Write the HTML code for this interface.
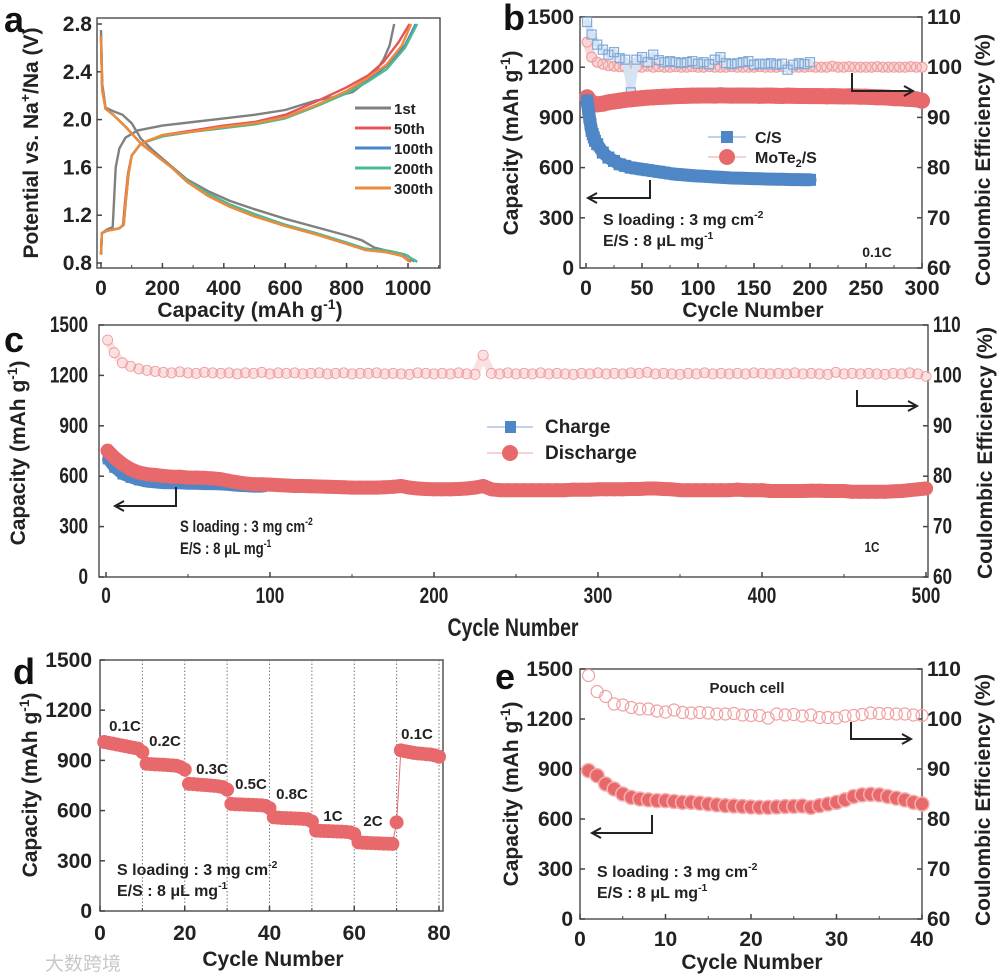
<!DOCTYPE html>
<html><head><meta charset="utf-8">
<style>
html,body{margin:0;padding:0;background:#fff;}
svg{display:block;font-family:"Liberation Sans","Noto Sans CJK SC",sans-serif;font-weight:bold;}
</style></head>
<body>
<svg id="fig" width="1000" height="977" viewBox="0 0 1000 977" xmlns="http://www.w3.org/2000/svg"></svg>
<script>
// ---------- DATA ----------
const aDis1 = [[0,2.75],[4,2.3],[15,2.1],[40,2.07],[70,2.04],[100,1.97],[130,1.84],[170,1.74],[220,1.63],[280,1.5],[350,1.4],[420,1.32],[500,1.25],[600,1.17],[700,1.1],[800,1.03],[850,0.99],[890,0.93],[950,0.89],[1000,0.86],[1020,0.81]];
const aDis50 = [[0,2.7],[4,2.25],[15,2.09],[40,2.04],[80,1.94],[130,1.8],[180,1.7],[230,1.6],[280,1.48],[350,1.36],[420,1.27],[500,1.19],[600,1.11],[700,1.04],[800,0.96],[860,0.91],[930,0.89],[980,0.86],[1010,0.81]];
const aDis100 = [[0,2.7],[4,2.25],[15,2.09],[40,2.04],[80,1.94],[130,1.8],[180,1.7],[230,1.6],[280,1.48],[350,1.37],[420,1.28],[500,1.2],[600,1.12],[700,1.05],[800,0.97],[860,0.92],[940,0.9],[990,0.87],[1030,0.81]];
const aDis200 = [[0,2.7],[4,2.25],[15,2.09],[40,2.04],[80,1.94],[130,1.8],[180,1.7],[230,1.6],[280,1.49],[350,1.38],[420,1.29],[500,1.21],[600,1.12],[700,1.05],[800,0.97],[860,0.92],[940,0.9],[990,0.87],[1030,0.81]];
const aDis300 = [[0,2.7],[4,2.25],[15,2.09],[40,2.04],[80,1.94],[130,1.8],[180,1.7],[230,1.6],[280,1.48],[350,1.36],[420,1.27],[500,1.19],[600,1.11],[700,1.04],[800,0.96],[860,0.91],[930,0.89],[980,0.86],[1005,0.81]];
const aChg1 = [[0,0.87],[3,1.05],[20,1.08],[38,1.1],[42,1.3],[48,1.6],[60,1.76],[80,1.85],[120,1.91],[200,1.95],[300,1.98],[400,2.01],[500,2.04],[600,2.08],[700,2.16],[760,2.19],[820,2.23],[880,2.35],[920,2.5],[940,2.62],[955,2.8]];
const aChg50 = [[0,0.87],[3,1.05],[20,1.07],[60,1.09],[72,1.12],[78,1.3],[88,1.55],[100,1.7],[130,1.8],[200,1.87],[300,1.91],[400,1.95],[500,1.98],[600,2.04],[700,2.15],[800,2.27],[870,2.37],[920,2.48],[970,2.65],[1005,2.8]];
const aChg100 = [[0,0.87],[3,1.05],[20,1.07],[60,1.09],[74,1.12],[80,1.3],[90,1.55],[100,1.7],[130,1.8],[200,1.86],[300,1.9],[400,1.93],[500,1.97],[600,2.02],[700,2.12],[800,2.23],[870,2.33],[930,2.45],[990,2.62],[1025,2.8]];
const aChg200 = [[0,0.87],[3,1.05],[20,1.07],[60,1.09],[74,1.12],[80,1.3],[90,1.55],[100,1.7],[130,1.8],[200,1.86],[300,1.9],[400,1.93],[500,1.96],[600,2.01],[700,2.11],[800,2.22],[870,2.32],[930,2.42],[990,2.6],[1030,2.8]];
const aChg300 = [[0,0.87],[3,1.05],[20,1.07],[60,1.09],[74,1.12],[80,1.3],[90,1.55],[100,1.7],[130,1.8],[200,1.87],[300,1.9],[400,1.94],[500,1.97],[600,2.02],[700,2.12],[800,2.24],[870,2.35],[930,2.46],[980,2.62],[1010,2.8]];
const aLabels = ['1st','50th','100th','200th','300th'];
const aXTicks = [0,200,400,600,800,1000];
const aYTicks = [0.8,1.2,1.6,2.0,2.4,2.8];

const bCycCS = [1,2,3,4,5,6,7,8,10,15,20,25,30,35,40,45,50,55,60,65,70,75,80,85,90,95,100,105,110,115,120,125,130,135,140,145,150,155,160,165,170,175,180,185,190,195,200];
const bCapCS = [1000,950,900,860,820,800,780,760,740,690,660,640,620,610,600,595,590,585,580,575,570,565,560,558,555,552,550,548,546,544,542,540,538,537,536,535,534,533,532,531,530,530,529,528,528,527,527];
const bCapMo = [1020,985,978,982,990,995,1000,1005,1008,1012,1015,1018,1020,1022,1024,1025,1027,1028,1029,1030,1030,1031,1031,1030,1032,1031,1030,1030,1031,1030,1030,1029,1030,1030,1029,1028,1030,1029,1028,1028,1027,1028,1027,1026,1027,1026,1025,1026,1025,1024,1024,1022,1020,1020,1018,1015,1015,1012,1010,1008,1000];
const bCeCS = [109,106.5,104.5,103.5,102.5,103,101.8,101.5,95,101.5,102,101,102.5,101.4,101,101.2,101,100.8,101,101.2,100.7,101,100.6,101.5,102,100.8,100.6,100.8,101,101.2,100.5,100.7,100.6,100.8,100.5,100.7,99.5,100.5,100.8,100.6,101];
const bCeMo = [105,102,101,100.6,100.3,100.2,100.1,100,100.1,100,100,100.2,100,100.1,100,100,100.1,100,100,100.1,100,100,100.1,100,100,100,100.1,100,100,100,100,100.1,100,100,100,100.1,100,100,100,100,100.1,100,100,100,100.2,100,100,100.1,100,100,100,100,100.1,100,100,100,100,100,100.1,100,100];
const bXTicks = [0,50,100,150,200,250,300];
const capTicks = [0,300,600,900,1200,1500];
const ceTicks = [60,70,80,90,100,110];

const cDis = [740,700,660,630,610,600,595,590,585,585,580,580,578,575,570,560,552,545,540,540,538,535,533,530,530,528,527,525,524,522,520,520,520,520,522,525,530,520,515,512,510,510,510,512,515,520,530,510,505,505,505,505,505,505,505,505,505,508,508,508,510,510,510,510,512,512,515,515,512,510,505,505,505,505,505,505,505,508,505,505,505,500,500,500,500,500,502,502,500,500,500,495,495,495,495,495,498,500,505,510,515];
const cChg = [700,650,610,590,575,565,560,556,555,555,552,552,550,550,548,545,540,538,535,535];
const cCe = [107,104.5,102.5,101.8,101.3,101,100.8,100.6,100.5,100.7,100.5,100.4,100.6,100.5,100.4,100.5,100.3,100.5,100.4,100.6,100.3,100.5,100.4,100.5,100.3,100.4,100.5,100.3,100.4,100.5,100.3,100.4,100.4,100.5,100.3,100.4,100.3,100.2,100.5,100.4,100.3,100.4,100.3,100.5,100.3,100.2,104,100.4,100.3,100.5,100.3,100.4,100.3,100.5,100.3,100.4,100.3,100.2,100.4,100.3,100.5,100.3,100.4,100.3,100.5,100.4,100.6,100.3,100.4,100.3,100.2,100.4,100.3,100.5,100.3,100.4,100.3,100.4,100.3,100.5,100.4,100.3,100.4,100.3,100.5,100.3,100.4,100.3,100.2,100.6,100.3,100.4,100.3,100.4,100.3,100.2,100.4,100.3,100.5,100.3,99.8];
const cXTicks = [0,100,200,300,400,500];

const dCap = [1010,1005,1000,995,990,985,980,975,970,950, 880,878,876,875,874,872,870,868,860,845, 760,758,756,754,752,750,748,745,740,725, 640,638,637,636,635,634,633,632,628,615, 560,558,556,555,554,553,552,550,548,535, 480,479,478,477,476,475,474,473,470,460, 410,408,407,406,405,404,403,402,401,530, 960,955,950,945,942,940,937,935,930,922];
const dRates = ['0.1C','0.2C','0.3C','0.5C','0.8C','1C','2C','0.1C'];
const dXTicks = [0,20,40,60,80];

const eCap = [890,860,810,780,750,730,720,715,710,710,705,700,700,695,690,685,680,678,675,672,670,670,672,675,676,678,670,680,690,700,715,735,745,748,745,735,725,715,700,690];
const eCe = [108.7,105.5,104.5,103,102.8,102.3,102,102,101.6,101.4,101.8,101.3,101.2,101.3,101.2,101,101,101.1,100.8,100.7,100.7,100.2,101,100.8,100.9,100.6,100.8,100.3,100.3,100.2,100.6,100.7,100.9,101.2,101.1,101.1,101,101,100.8,100.7];
const eXTicks = [0,10,20,30,40];

// ---------- helpers ----------
const NS='http://www.w3.org/2000/svg';
const svg=document.getElementById('fig');
function el(tag,attrs,parent){const e=document.createElementNS(NS,tag);for(const k in attrs)e.setAttribute(k,attrs[k]);(parent||svg).appendChild(e);return e;}
function txt(s,x,y,size,anchor,parent,extra){const t=el('text',Object.assign({x:x,y:y,'font-size':size,'text-anchor':anchor||'start',fill:'#222'},extra||{}),parent);t.textContent=s;return t;}
function lin(x1,y1,x2,y2,parent,w,col){return el('line',{x1:x1,y1:y1,x2:x2,y2:y2,stroke:col||'#444',"stroke-width":w||1.5},parent);}
function band(g,pts,w,col,name){const p=el('polyline',{points:pts.map(q=>q[0].toFixed(1)+','+q[1].toFixed(1)).join(' '),fill:'none',stroke:col,'stroke-width':w,'stroke-linejoin':'round','stroke-linecap':'round'},g);
  
  }

const RED='#e8696b', BLUE='#4f86c6', PINK='#f0a0a2';

function frame(g,x0,y0,x1,y1){const r=el('rect',{x:x0,y:y0,width:x1-x0,height:y1-y0,fill:'none',stroke:'#555','stroke-width':1.5},g);}
function arrow(g,vx,vy1,vy2,hx,name){
  const p=el('polyline',{points:vx+','+vy1+' '+vx+','+vy2+' '+hx+','+vy2,fill:'none',stroke:'#222','stroke-width':2},g);
  
  
  const d=hx>vx?-9:9;
  const h=el('polyline',{points:(hx+d)+','+(vy2-5)+' '+hx+','+vy2+' '+(hx+d)+','+(vy2+5),fill:'none',stroke:'#222','stroke-width':2},g);
  
  
}
function condition(g,x,y,size,condensed){
  const t1=txt('S loading : 3 mg cm',x,y,size,'start',g,condensed?{transform:'translate('+x+','+y+') scale(0.78,1) translate('+(-x)+','+(-y)+')'}:{});
  const s1=el('tspan',{dy:-7,'font-size':size*0.65},t1);s1.textContent='-2';
  
  
  const y2=y+size+5;
  const t2=txt('E/S : 8 μL mg',x,y2,size,'start',g,condensed?{transform:'translate('+x+','+y2+') scale(0.78,1) translate('+(-x)+','+(-y2)+')'}:{});
  const s2=el('tspan',{dy:-7,'font-size':size*0.65},t2);s2.textContent='-1';
  
  
}
function capTitle(g,x,cy,size,name){
  const t=txt('Capacity (mAh g',0,0,size,'middle',g,{transform:'translate('+x+','+cy+') rotate(-90)'});
  const s=el('tspan',{dy:-8,'font-size':size*0.65},t);s.textContent='-1';
  const s2=el('tspan',{dy:8},t);s2.textContent=')';
  
  
}
function ceTitle(g,x,cy,size,name){
  const t=txt('Coulombic Efficiency (%)',0,0,size,'middle',g,{transform:'translate('+x+','+cy+') rotate(-90)'});
  
  
}
function panelLetter(s,x,y){const t=txt(s,x,y,36,'start',svg,{fill:'#111'});}

// ---------- PANEL A ----------
(function(){
  const g=el('g',{});
  
  
  const sx=v=>101+v/1000*307, sy=v=>263-(v-0.8)/2*239;
  frame(g,97,18,440,268);
  aXTicks.forEach(v=>{lin(sx(v),268,sx(v),263,g);lin(sx(v+100),268,sx(v+100),265,g,1);
    const t=txt(String(v),sx(v),295,21,'middle',g);});
  aYTicks.forEach(v=>{lin(97,sy(v),102,sy(v),g);
    const t=txt(v.toFixed(1),92,sy(v)+7,21,'end',g);});
  const cols=['#808080','#e5545a','#4a86c8','#4cbb8f','#f08a3a'];
  const dis=[aDis1,aDis50,aDis100,aDis200,aDis300], chg=[aChg1,aChg50,aChg100,aChg200,aChg300];
  for(let i=0;i<5;i++){
    [dis[i],chg[i]].forEach((arr,j)=>{
      const p=el('polyline',{points:arr.map(d=>sx(d[0]).toFixed(1)+','+sy(d[1]).toFixed(1)).join(' '),fill:'none',stroke:cols[i],'stroke-width':2.4,'stroke-linejoin':'round'},g);
      
      
    });
    const ly=108+i*20;
    const l=lin(355,ly,391,ly,g,3,cols[i]);
    
    
    const t=txt(aLabels[i],394,ly+6,15,'start',g);
    
    
  }
  const xt=txt('Capacity (mAh g',250,317,21,'middle',g);const s=el('tspan',{dy:-8,'font-size':14},xt);s.textContent='-1';const s2=el('tspan',{dy:8},xt);s2.textContent=')';
  
  
  const yt=txt('Potential vs. Na',0,0,21,'middle',g,{transform:'translate(38,143) rotate(-90)'});
  const s3=el('tspan',{dy:-8,'font-size':14},yt);s3.textContent='+';const s4=el('tspan',{dy:8},yt);s4.textContent='/Na (V)';
  
  
})();
panelLetter('a',4,32);

// ---------- PANEL B ----------
(function(){
  const g=el('g',{});
  
  
  const sx=v=>586+v/300*336, sy=v=>268-v/1500*251, sc=v=>268-(v-60)/50*251;
  frame(g,580,17,922,268);
  bXTicks.forEach(v=>{lin(sx(v),268,sx(v),263,g);lin(sx(v+25),268,sx(v+25),265,g,1);
    const t=txt(String(v),sx(v),295,21,'middle',g);});
  capTicks.forEach(v=>{lin(580,sy(v),585,sy(v),g);
    const t=txt(String(v),574,sy(v)+7,21,'end',g);});
  ceTicks.forEach(v=>{lin(917,sc(v),922,sc(v),g);
    const t=txt(String(v),927,sc(v)+7,21,'start',g);});
  band(g,bCeMo.map((v,i)=>[sx(i===0?1:i*5),sc(v)]),9,'#f8d6d6','ce-band-mote2');
  bCeMo.forEach((v,i)=>{const c=el('circle',{cx:sx(i===0?1:i*5),cy:sc(v),r:5,fill:'none',stroke:PINK,'stroke-width':1.2},g);
    
    });
  band(g,bCeCS.map((v,i)=>[sx(i===0?1:i*5),sc(v)]),7,'#d5e3f3','ce-band-cs');
  bCeCS.forEach((v,i)=>{const x=sx(i===0?1:i*5);const r=el('rect',{x:x-4.5,y:sc(v)-4.5,width:9,height:9,fill:'none',stroke:'#7fa8d8','stroke-width':1.2},g);
    
    });
  band(g,bCapMo.map((v,i)=>[sx(i===0?1:i*5),sy(v)]),16,RED,'capacity-band-mote2');
  bCapMo.forEach((v,i)=>{const c=el('circle',{cx:sx(i===0?1:i*5),cy:sy(v),r:8,fill:RED},g);
    
    });
  band(g,bCapCS.map((v,i)=>[sx(bCycCS[i]),sy(v)]),13,BLUE,'capacity-band-cs');
  bCapCS.forEach((v,i)=>{const x=sx(bCycCS[i]);const r=el('rect',{x:x-6,y:sy(v)-6,width:12,height:12,fill:BLUE},g);
    
    });
  arrow(g,650,180,198,588,'capacity-axis-arrow');
  arrow(g,852,73,91,913,'ce-axis-arrow');
  lin(708,137,746,137,g,1,'#7fa8d8');
  const lr=el('rect',{x:721,y:131,width:12,height:12,fill:BLUE},g);
  
  
  const l1=txt('C/S',755,143,16,'start',g);
  
  
  lin(708,157,746,157,g,1,PINK);
  const lc=el('circle',{cx:727,cy:157,r:8,fill:RED},g);
  
  
  const l2=txt('MoTe',755,163,16,'start',g);const ss=el('tspan',{dy:4,'font-size':11},l2);ss.textContent='2';const ss2=el('tspan',{dy:-4},l2);ss2.textContent='/S';
  
  
  condition(g,603,225,16,false);
  const r=txt('0.1C',877,257,14,'middle',g);
  
  
  const xt=txt('Cycle Number',753,317,21,'middle',g);
  
  
  capTitle(g,518,143,21,'capacity-axis-title');
  ceTitle(g,990,160,21,'ce-axis-title');
})();
panelLetter('b',503,30);

// ---------- PANEL C ----------
(function(){
  const g=el('g',{});
  
  
  const sx=v=>106+v/500*820, sy=v=>577-v/1500*252, sc=v=>577-(v-60)/50*252;
  frame(g,99,325,928,577);
  const cond=(x,y)=>({transform:'translate('+x+','+y+') scale(0.78,1) translate('+(-x)+','+(-y)+')'});
  cXTicks.forEach(v=>{lin(sx(v),577,sx(v),572,g);if(v<500)lin(sx(v+50),577,sx(v+50),574,g,1);
    const t=txt(String(v),sx(v),603,22,'middle',g,cond(sx(v),603));});
  capTicks.forEach(v=>{lin(99,sy(v),104,sy(v),g);
    const t=txt(String(v),88,sy(v)+7,22,'end',g,cond(88,sy(v)+7));});
  ceTicks.forEach(v=>{lin(923,sc(v),928,sc(v),g);
    const t=txt(String(v),933,sc(v)+7,22,'start',g,cond(933,sc(v)+7));});
  band(g,cCe.map((v,i)=>[sx(i===0?1:i*5),sc(v)]),8,'#fae0e0','ce-band');
  cCe.forEach((v,i)=>{const c=el('circle',{cx:sx(i===0?1:i*5),cy:sc(v),r:5,fill:'none',stroke:PINK,'stroke-width':1},g);
    
    });
  band(g,cChg.map((v,i)=>[sx(i===0?1:i*5),sy(v)]),11,BLUE,'charge-band');
  cChg.forEach((v,i)=>{const x=sx(i===0?1:i*5);const r=el('rect',{x:x-5,y:sy(v)-5,width:10,height:10,fill:BLUE},g);
    
    });
  band(g,cDis.map((v,i)=>[sx(i===0?1:i*5),sy(v)-2]),14,RED,'discharge-band');
  cDis.forEach((v,i)=>{const c=el('circle',{cx:sx(i===0?1:i*5),cy:sy(v)-2,r:7,fill:RED},g);
    
    });
  arrow(g,176,487,506,115,'capacity-axis-arrow');
  arrow(g,857,390,406,917,'ce-axis-arrow');
  lin(487,427,533,427,g,1,'#7fa8d8');
  const lr=el('rect',{x:505,y:421,width:11,height:12,fill:BLUE},g);
  
  
  const l1=txt('Charge',545,433,19,'start',g);
  
  
  lin(487,453,533,453,g,1,PINK);
  const lc=el('circle',{cx:510,cy:453,r:8,fill:RED},g);
  
  
  const l2=txt('Discharge',545,459,19,'start',g);
  
  
  condition(g,180,532,17,true);
  const r=txt('1C',872,552,15,'middle',g,cond(872,552));
  
  
  const xt=txt('Cycle Number',513,636,25,'middle',g,cond(513,636));
  
  
  capTitle(g,25,453,21,'capacity-axis-title');
  ceTitle(g,992,453,21,'ce-axis-title');
})();
panelLetter('c',4,352);

// ---------- PANEL D ----------
(function(){
  const g=el('g',{});
  
  
  const sx=v=>100+v/80*339, sy=v=>911-v/1500*251;
  frame(g,100,660,443,911);
  for(let k=10;k<=80;k+=10){const l=el('line',{x1:sx(k),y1:660,x2:sx(k),y2:911,stroke:'#777','stroke-width':1,'stroke-dasharray':'1.5,2'},g);
    
    }
  dXTicks.forEach(v=>{lin(sx(v),911,sx(v),906,g);if(v<80)lin(sx(v+10),911,sx(v+10),908,g,1);
    const t=txt(String(v),sx(v),940,21,'middle',g);});
  capTicks.forEach(v=>{lin(100,sy(v),105,sy(v),g);
    const t=txt(String(v),92,sy(v)+7,21,'end',g);});
  el('polyline',{points:dCap.map((v,i)=>sx(i+1)+','+sy(v)).join(' '),fill:'none',stroke:RED,'stroke-width':1},g);
  dCap.forEach((v,i)=>{const c=el('circle',{cx:sx(i+1),cy:sy(v),r:7,fill:RED},g);
    
    });
  const lp=[[125,731],[165,746],[212,774],[251,789],[292,799],[333,821],[373,826],[417,739]];
  dRates.forEach((s,i)=>{const t=txt(s,lp[i][0],lp[i][1],15,'middle',g);
    
    });
  condition(g,117,875,16,false);
  const xt=txt('Cycle Number',273,966,21,'middle',g);
  
  
  capTitle(g,37,785,21,'capacity-axis-title');
  const wm=txt('大数跨境',45,970,19,'start',g,{fill:'#c8c8c8','font-weight':'normal'});
  
  
})();
panelLetter('d',13,684);

// ---------- PANEL E ----------
(function(){
  const g=el('g',{});
  
  
  const sx=v=>580+v/40*342, sy=v=>919-v/1500*250, sc=v=>919-(v-60)/50*250;
  frame(g,580,669,922,919);
  eXTicks.forEach(v=>{lin(sx(v),919,sx(v),914,g);if(v<40)lin(sx(v+5),919,sx(v+5),916,g,1);
    const t=txt(String(v),sx(v),946,21,'middle',g);});
  capTicks.forEach(v=>{lin(580,sy(v),585,sy(v),g);
    const t=txt(String(v),573,sy(v)+7,21,'end',g);});
  ceTicks.forEach(v=>{lin(917,sc(v),922,sc(v),g);
    const t=txt(String(v),927,sc(v)+7,21,'start',g);});
  eCe.forEach((v,i)=>{const c=el('circle',{cx:sx(i+1),cy:sc(v),r:6,fill:'none',stroke:PINK,'stroke-width':1.2},g);
    
    });
  eCap.forEach((v,i)=>{const c=el('circle',{cx:sx(i+1),cy:sy(v),r:7,fill:RED,stroke:'#f6b0b0','stroke-width':1.5},g);
    
    });
  arrow(g,652,815,833,592,'capacity-axis-arrow');
  arrow(g,851,722,739,911,'ce-axis-arrow');
  const pc=txt('Pouch cell',747,693,15,'middle',g);
  
  
  condition(g,597,877,16,false);
  const xt=txt('Cycle Number',752,969,21,'middle',g);
  
  
  capTitle(g,518,794,21,'capacity-axis-title');
  ceTitle(g,990,800,21,'ce-axis-title');
})();
panelLetter('e',495,689);
</script>
</body></html>
